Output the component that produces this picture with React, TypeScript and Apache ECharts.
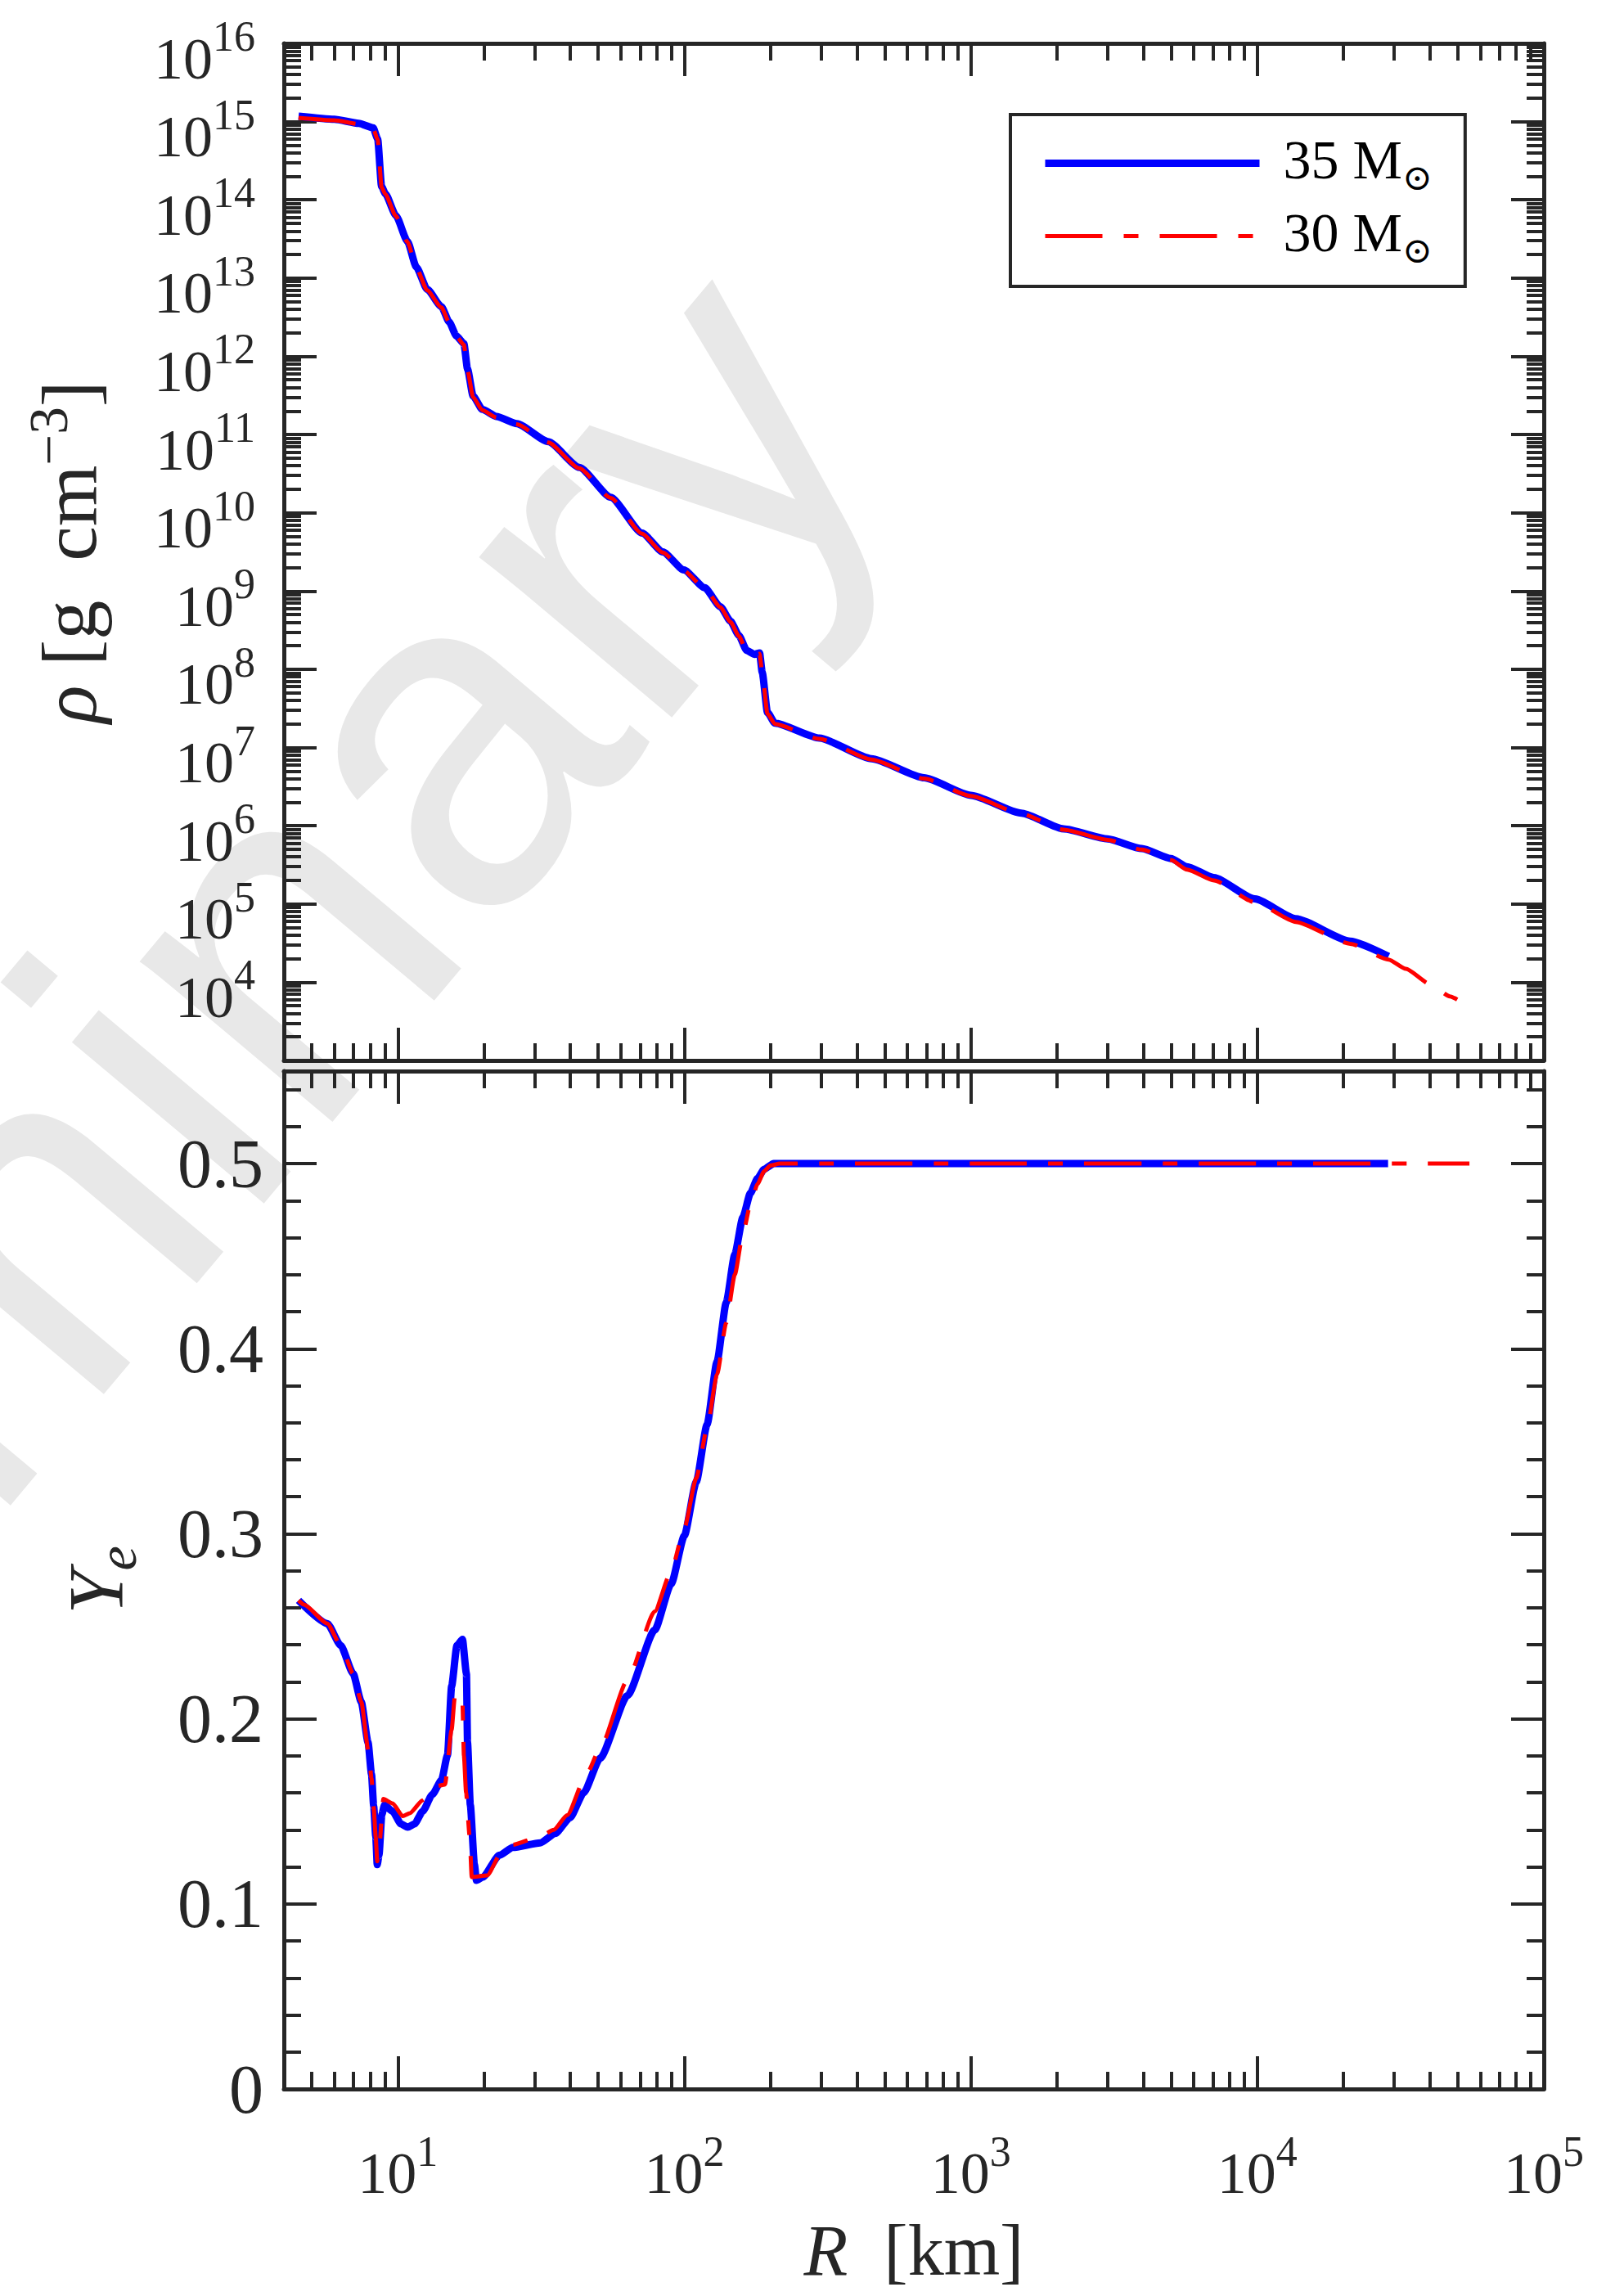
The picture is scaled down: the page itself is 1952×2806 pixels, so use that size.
import React, { useEffect, useRef } from 'react';
import * as echarts from 'echarts';

// ---------------- data ----------------
// Top panel: density profile rho(R) [g cm^-3]
const R_RHO_35 = [4.5, 6.0, 7.3, 8.2, 8.5, 8.77, 9.04, 9.84, 10.8, 11.6, 12.65, 14.2, 15.1, 16.0, 17.0, 17.5, 18.3, 19.7, 22.1, 26, 33.5, 43, 55.3, 71.2, 84.1, 99.6, 117.8, 133.6, 145, 155, 165, 176, 183, 187, 195, 207, 296, 450, 687, 1000, 1500, 2110, 3000, 3950, 5000, 5680, 7050, 9800, 13600, 21100, 28700];
const RHO_35 = [1.17e15, 1.07e15, 9.5e14, 8.3e14, 6.0e14, 1.48e14, 1.2e14, 6.3e13, 2.95e13, 1.38e13, 7.2e12, 4.3e12, 2.75e12, 1.82e12, 1.45e12, 6.9e11, 3.1e11, 2.1e11, 1.7e11, 1.38e11, 8.1e10, 3.8e10, 1.58e10, 5.5e9, 3.16e9, 1.86e9, 1.1e9, 6.3e8, 4.1e8, 2.7e8, 1.74e8, 1.55e8, 1.62e8, 9.1e7, 2.8e7, 2.05e7, 1.32e7, 7.2e6, 4.1e6, 2.45e6, 1.45e6, 9.1e5, 6.8e5, 5.1e5, 3.8e5, 3.0e5, 2.17e5, 1.16e5, 6.5e4, 3.35e4, 2.14e4];

const R_RHO_30 = [4.5, 6.0, 7.3, 8.2, 8.5, 8.77, 9.04, 9.84, 10.8, 11.6, 12.65, 14.2, 15.1, 16.0, 17.0, 17.5, 18.3, 19.7, 22.1, 26, 33.5, 43, 55.3, 71.2, 84.1, 99.6, 117.8, 133.6, 145, 155, 165, 176, 183, 187, 195, 207, 296, 450, 687, 1000, 1500, 2110, 3000, 3950, 5000, 5680, 7050, 9800, 13600, 21100, 28700, 33000, 40000, 47000, 54800];
const RHO_30 = [1.12e15, 1.04e15, 9.3e14, 8.1e14, 5.9e14, 1.45e14, 1.18e14, 6.2e13, 2.9e13, 1.35e13, 7.0e12, 4.2e12, 2.7e12, 1.8e12, 1.4e12, 6.6e11, 3.0e11, 2.05e11, 1.65e11, 1.35e11, 7.9e10, 3.7e10, 1.55e10, 5.4e9, 3.1e9, 1.82e9, 1.08e9, 6.2e8, 4.0e8, 2.65e8, 1.7e8, 1.52e8, 1.58e8, 8.8e7, 2.7e7, 2.0e7, 1.29e7, 7.0e6, 4.0e6, 2.4e6, 1.42e6, 8.9e5, 6.6e5, 4.95e5, 3.65e5, 2.75e5, 2.0e5, 1.05e5, 5.9e4, 3.1e4, 1.95e4, 1.48e4, 9.5e3, 6.6e3, 4.8e3];

// Bottom panel: electron fraction Ye(R)
const R_YE_35 = [4.5, 5.67, 6.32, 6.98, 7.45, 7.87, 8.09, 8.23, 8.37, 8.47, 8.59, 8.79, 8.98, 9.59, 10.25, 10.82, 11.43, 12.2, 13.2, 14.2, 14.9, 15.4, 16.07, 16.8, 17.35, 17.5, 17.9, 18.5, 18.8, 19.8, 22.6, 25.2, 31.4, 35.4, 39.9, 44.5, 50.8, 63.3, 78.8, 90, 100, 110, 120, 130, 140, 150, 160, 170, 180, 190, 205, 300, 1000, 10000, 28600];
const YE_35 = [0.264, 0.2515, 0.2396, 0.2244, 0.2092, 0.1872, 0.170, 0.153, 0.1364, 0.1212, 0.1263, 0.1483, 0.1534, 0.150, 0.1432, 0.1415, 0.1432, 0.150, 0.1592, 0.1669, 0.1804, 0.2176, 0.2396, 0.243, 0.2244, 0.1872, 0.1534, 0.1212, 0.1127, 0.1145, 0.1263, 0.1305, 0.133, 0.138, 0.1466, 0.160, 0.1787, 0.2126, 0.248, 0.273, 0.299, 0.328, 0.359, 0.393, 0.425, 0.451, 0.471, 0.484, 0.492, 0.497, 0.5, 0.5, 0.5, 0.5, 0.5];

const R_YE_30 = [4.5, 4.7, 5.67, 6.32, 6.98, 7.45, 7.9, 8.09, 8.23, 8.37, 8.47, 8.6, 8.9, 9.59, 10.4, 11.0, 12.2, 13.6, 14.6, 15.4, 15.8, 16.3, 16.8, 17.0, 17.3, 17.8, 18.1, 20.5, 23.0, 25.2, 31.4, 35, 39, 45.5, 50.8, 63.3, 78.8, 90, 100, 110, 120, 130, 140, 150, 160, 170, 180, 190, 200, 215, 300, 1000, 10000, 55000];
const YE_30 = [0.264, 0.2617, 0.2515, 0.2396, 0.2244, 0.2092, 0.182, 0.168, 0.152, 0.136, 0.123, 0.13, 0.1567, 0.1543, 0.1474, 0.149, 0.156, 0.1636, 0.1645, 0.194, 0.2118, 0.2142, 0.209, 0.180, 0.160, 0.1365, 0.1145, 0.1154, 0.128, 0.132, 0.1364, 0.14, 0.148, 0.170, 0.184, 0.221, 0.258, 0.28, 0.303, 0.33, 0.357, 0.386, 0.414, 0.44, 0.462, 0.478, 0.489, 0.496, 0.499, 0.5, 0.5, 0.5, 0.5, 0.5];

const SERIES_NAMES = ['35 M⊙', '30 M⊙'];

// ---------------- ticks / labels ----------------
const X_MIN = 4;
const X_MAX = 1e5;
const X_MAJOR = [10, 100, 1000, 10000];
const X_LABELS = [10, 100, 1000, 10000, 100000];
const RHO_MIN = 1e3;
const RHO_MAX = 1e16;
const RHO_MAJOR = [1e4, 1e5, 1e6, 1e7, 1e8, 1e9, 1e10, 1e11, 1e12, 1e13, 1e14, 1e15];
const RHO_LABELS = [1e4, 1e5, 1e6, 1e7, 1e8, 1e9, 1e10, 1e11, 1e12, 1e13, 1e14, 1e15, 1e16];
const YE_MAJOR = [0.1, 0.2, 0.3, 0.4, 0.5];
const YE_LABELS = [0, 0.1, 0.2, 0.3, 0.4, 0.5];
const YE_MINOR = [0.02, 0.04, 0.06, 0.08, 0.12, 0.14, 0.16, 0.18, 0.22, 0.24, 0.26, 0.28, 0.32, 0.34, 0.36, 0.38, 0.42, 0.44, 0.46, 0.48, 0.52, 0.54];

function logMinors(lo: number, hi: number, from: number, to: number) {
  const out: number[] = [];
  for (let e = lo; e <= hi; e++) {
    for (let k = 2; k <= 9; k++) {
      const v = k * Math.pow(10, e);
      if (v > from && v < to) out.push(v);
    }
  }
  return out;
}
const X_MINOR = logMinors(0, 4, X_MIN, X_MAX);
const RHO_MINOR = logMinors(3, 15, RHO_MIN, RHO_MAX);

// ---------------- styles ----------------
const FONT = "'Liberation Serif', 'DejaVu Serif', serif";
const INK = '#262626';
const BLUE = '#0000ff';
const RED = '#ff0000';
const DASHDOT = [70, 26, 18, 26];
const NB = '\u00a0';

const powRich = {
  b: { fontFamily: FONT, fontSize: 72, color: INK, verticalAlign: 'bottom' },
  s: { fontFamily: FONT, fontSize: 52, color: INK, verticalAlign: 'bottom', padding: [0, 0, 37, 0] },
};
const powFormatter = (v: number) => `{b|10}{s|${Math.round(Math.log10(v))}}`;

const lineOn = { show: true, onZero: false, lineStyle: { color: INK, width: 5 } };
const lineOff = { show: false, onZero: false };
const majorTick = (vals: number[]) => ({ show: true, inside: true, length: 40, customValues: vals, lineStyle: { color: INK, width: 4 } });
const minorTick = (vals: number[]) => ({ show: true, inside: true, length: 21, customValues: vals, lineStyle: { color: INK, width: 4 } });

function axisSet(base: any, sideA: string, sideB: string, major: number[], minor: number[], label: any, extra: any) {
  const common = { ...base, splitLine: { show: false }, minorTick: { show: false }, minorSplitLine: { show: false }, silent: true };
  return [
    { ...common, position: sideA, axisLine: lineOn, axisTick: majorTick(major), axisLabel: label, ...extra },
    { ...common, position: sideA, axisLine: lineOff, axisTick: minorTick(minor), axisLabel: { show: false } },
    { ...common, position: sideB, axisLine: lineOn, axisTick: majorTick(major), axisLabel: { show: false } },
    { ...common, position: sideB, axisLine: lineOff, axisTick: minorTick(minor), axisLabel: { show: false } },
  ];
}

const zip = (xs: number[], ys: number[]) => xs.map((x, i) => [x, ys[i]]);

function buildOption() {
  const xBase0 = { type: 'log', logBase: 10, min: X_MIN, max: X_MAX, gridIndex: 0 };
  const xBase1 = { type: 'log', logBase: 10, min: X_MIN, max: X_MAX, gridIndex: 1 };
  const yBase0 = { type: 'log', logBase: 10, min: RHO_MIN, max: RHO_MAX, gridIndex: 0 };
  const yBase1 = { type: 'value', min: 0, max: 0.55, interval: 0.05, gridIndex: 1 };

  const xAxis = [
    ...axisSet(xBase0, 'bottom', 'top', X_MAJOR, X_MINOR, { show: false }, {}),
    ...axisSet(xBase1, 'bottom', 'top', X_MAJOR, X_MINOR,
      { show: true, customValues: X_LABELS, margin: 50, formatter: powFormatter, rich: powRich },
      {
        name: `{i|R}{t|${NB}${NB}[km]}`,
        nameLocation: 'middle',
        nameGap: 153,
        nameTextStyle: {
          fontFamily: FONT, fontSize: 88, color: INK,
          rich: {
            i: { fontFamily: FONT, fontSize: 88, fontStyle: 'italic', color: INK, verticalAlign: 'bottom' },
            t: { fontFamily: FONT, fontSize: 88, color: INK, verticalAlign: 'bottom' },
          },
        },
      }),
  ];

  const yAxis = [
    ...axisSet(yBase0, 'left', 'right', RHO_MAJOR, RHO_MINOR,
      { show: true, customValues: RHO_LABELS, margin: 35, padding: [20, 0, 0, 0], formatter: powFormatter, rich: powRich },
      {
        name: `{i|ρ}{t|${NB}[g${NB}${NB}cm}{s|−3}{t|]}`,
        nameLocation: 'middle',
        nameRotate: 90,
        nameGap: 215,
        nameTextStyle: {
          fontFamily: FONT, fontSize: 96, color: INK,
          rich: {
            i: { fontFamily: FONT, fontSize: 96, fontStyle: 'italic', color: INK, verticalAlign: 'bottom' },
            t: { fontFamily: FONT, fontSize: 96, color: INK, verticalAlign: 'bottom' },
            s: { fontFamily: FONT, fontSize: 67, color: INK, verticalAlign: 'bottom', padding: [0, 0, 40, 0] },
          },
        },
      }),
    ...axisSet(yBase1, 'left', 'right', YE_MAJOR, YE_MINOR,
      {
        show: true, customValues: YE_LABELS, margin: 25, fontFamily: FONT, fontSize: 84, color: INK,
        formatter: (v: number) => (v === 0 ? '0' : v.toFixed(1)),
      },
      {
        name: '{i|Y}{e|e}',
        nameLocation: 'middle',
        nameRotate: 90,
        nameGap: 170,
        nameTextStyle: {
          fontFamily: FONT, fontSize: 96, color: INK,
          rich: {
            i: { fontFamily: FONT, fontSize: 96, fontStyle: 'italic', color: INK, verticalAlign: 'top' },
            e: { fontFamily: FONT, fontSize: 68, fontStyle: 'italic', color: INK, verticalAlign: 'top', padding: [40, 0, 0, 0] },
          },
        },
      }),
  ];

  const lineBase = {
    type: 'line', symbol: 'none', showSymbol: false, smooth: 0.2, smoothMonotone: 'x',
    silent: true, emphasis: { disabled: true }, clip: true,
  };
  const blueStyle = { color: BLUE, width: 9, cap: 'butt', join: 'round' };
  const redStyle = { color: RED, width: 5, type: DASHDOT, cap: 'butt', join: 'round' };

  const series = [
    { ...lineBase, name: SERIES_NAMES[0], xAxisIndex: 0, yAxisIndex: 0, data: zip(R_RHO_35, RHO_35), lineStyle: blueStyle, itemStyle: { color: BLUE }, z: 3 },
    { ...lineBase, name: SERIES_NAMES[1], xAxisIndex: 0, yAxisIndex: 0, data: zip(R_RHO_30, RHO_30), lineStyle: redStyle, itemStyle: { color: RED }, z: 4 },
    { ...lineBase, name: SERIES_NAMES[0], xAxisIndex: 4, yAxisIndex: 4, data: zip(R_YE_35, YE_35), lineStyle: blueStyle, itemStyle: { color: BLUE }, z: 3 },
    { ...lineBase, name: SERIES_NAMES[1], xAxisIndex: 4, yAxisIndex: 4, data: zip(R_YE_30, YE_30), lineStyle: redStyle, itemStyle: { color: RED }, z: 4 },
  ];

  return {
    animation: false,
    backgroundColor: '#ffffff',
    textStyle: { fontFamily: FONT },
    grid: [
      { left: 347, top: 53, width: 1540, height: 1243, containLabel: false, outerBoundsMode: 'none', show: false },
      { left: 347, top: 1309, width: 1540, height: 1244, containLabel: false, outerBoundsMode: 'none', show: false },
    ],
    xAxis,
    yAxis,
    legend: {
      show: true,
      orient: 'vertical',
      left: 1235,
      top: 140,
      padding: [21, 40, 23, 38],
      itemGap: 12,
      itemWidth: 262,
      itemHeight: 78,
      backgroundColor: '#ffffff',
      borderColor: INK,
      borderWidth: 4,
      borderRadius: 0,
      selectedMode: false,
      data: SERIES_NAMES,
      lineStyle: { width: 'inherit', type: 'inherit', color: 'inherit' },
      itemStyle: { color: 'rgba(0,0,0,0)', borderWidth: 0, opacity: 0 },
      formatter: (n: string) => `{m|${n.replace(' M⊙', ' M')}}{sub|⊙}`,
      textStyle: {
        fontFamily: FONT, fontSize: 68, color: '#000000', padding: [0, 0, 0, 24],
        rich: {
          m: { fontFamily: FONT, fontSize: 68, color: '#000000', verticalAlign: 'top' },
          sub: { fontFamily: "'DejaVu Serif', 'Liberation Serif', serif", fontSize: 44, color: '#000000', verticalAlign: 'top', padding: [33, 0, 0, 0] },
        },
      },
    },
    graphic: [
      {
        type: 'text',
        z: -10,
        silent: true,
        x: -913,
        y: 2630,
        rotation: (50 * Math.PI) / 180,
        style: {
          text: 'Preliminary',
          fontSize: 580,
          fontFamily: "'Liberation Sans', Arial, sans-serif",
          fill: '#e8e8e8',
          textAlign: 'left',
          textVerticalAlign: 'middle',
          verticalAlign: 'middle',
        },
      },
    ],
    series,
  };
}

export default function App() {
  const ref = useRef<HTMLDivElement>(null);
  useEffect(() => {
    if (!ref.current) return;
    const chart = echarts.init(ref.current, null, { renderer: 'svg', width: 1952, height: 2806 });
    chart.setOption(buildOption() as any);
    return () => chart.dispose();
  }, []);
  return (
    <div
      ref={ref}
      style={{ position: 'absolute', left: 0, top: 0, width: 1952, height: 2806, background: '#ffffff' }}
    />
  );
}
